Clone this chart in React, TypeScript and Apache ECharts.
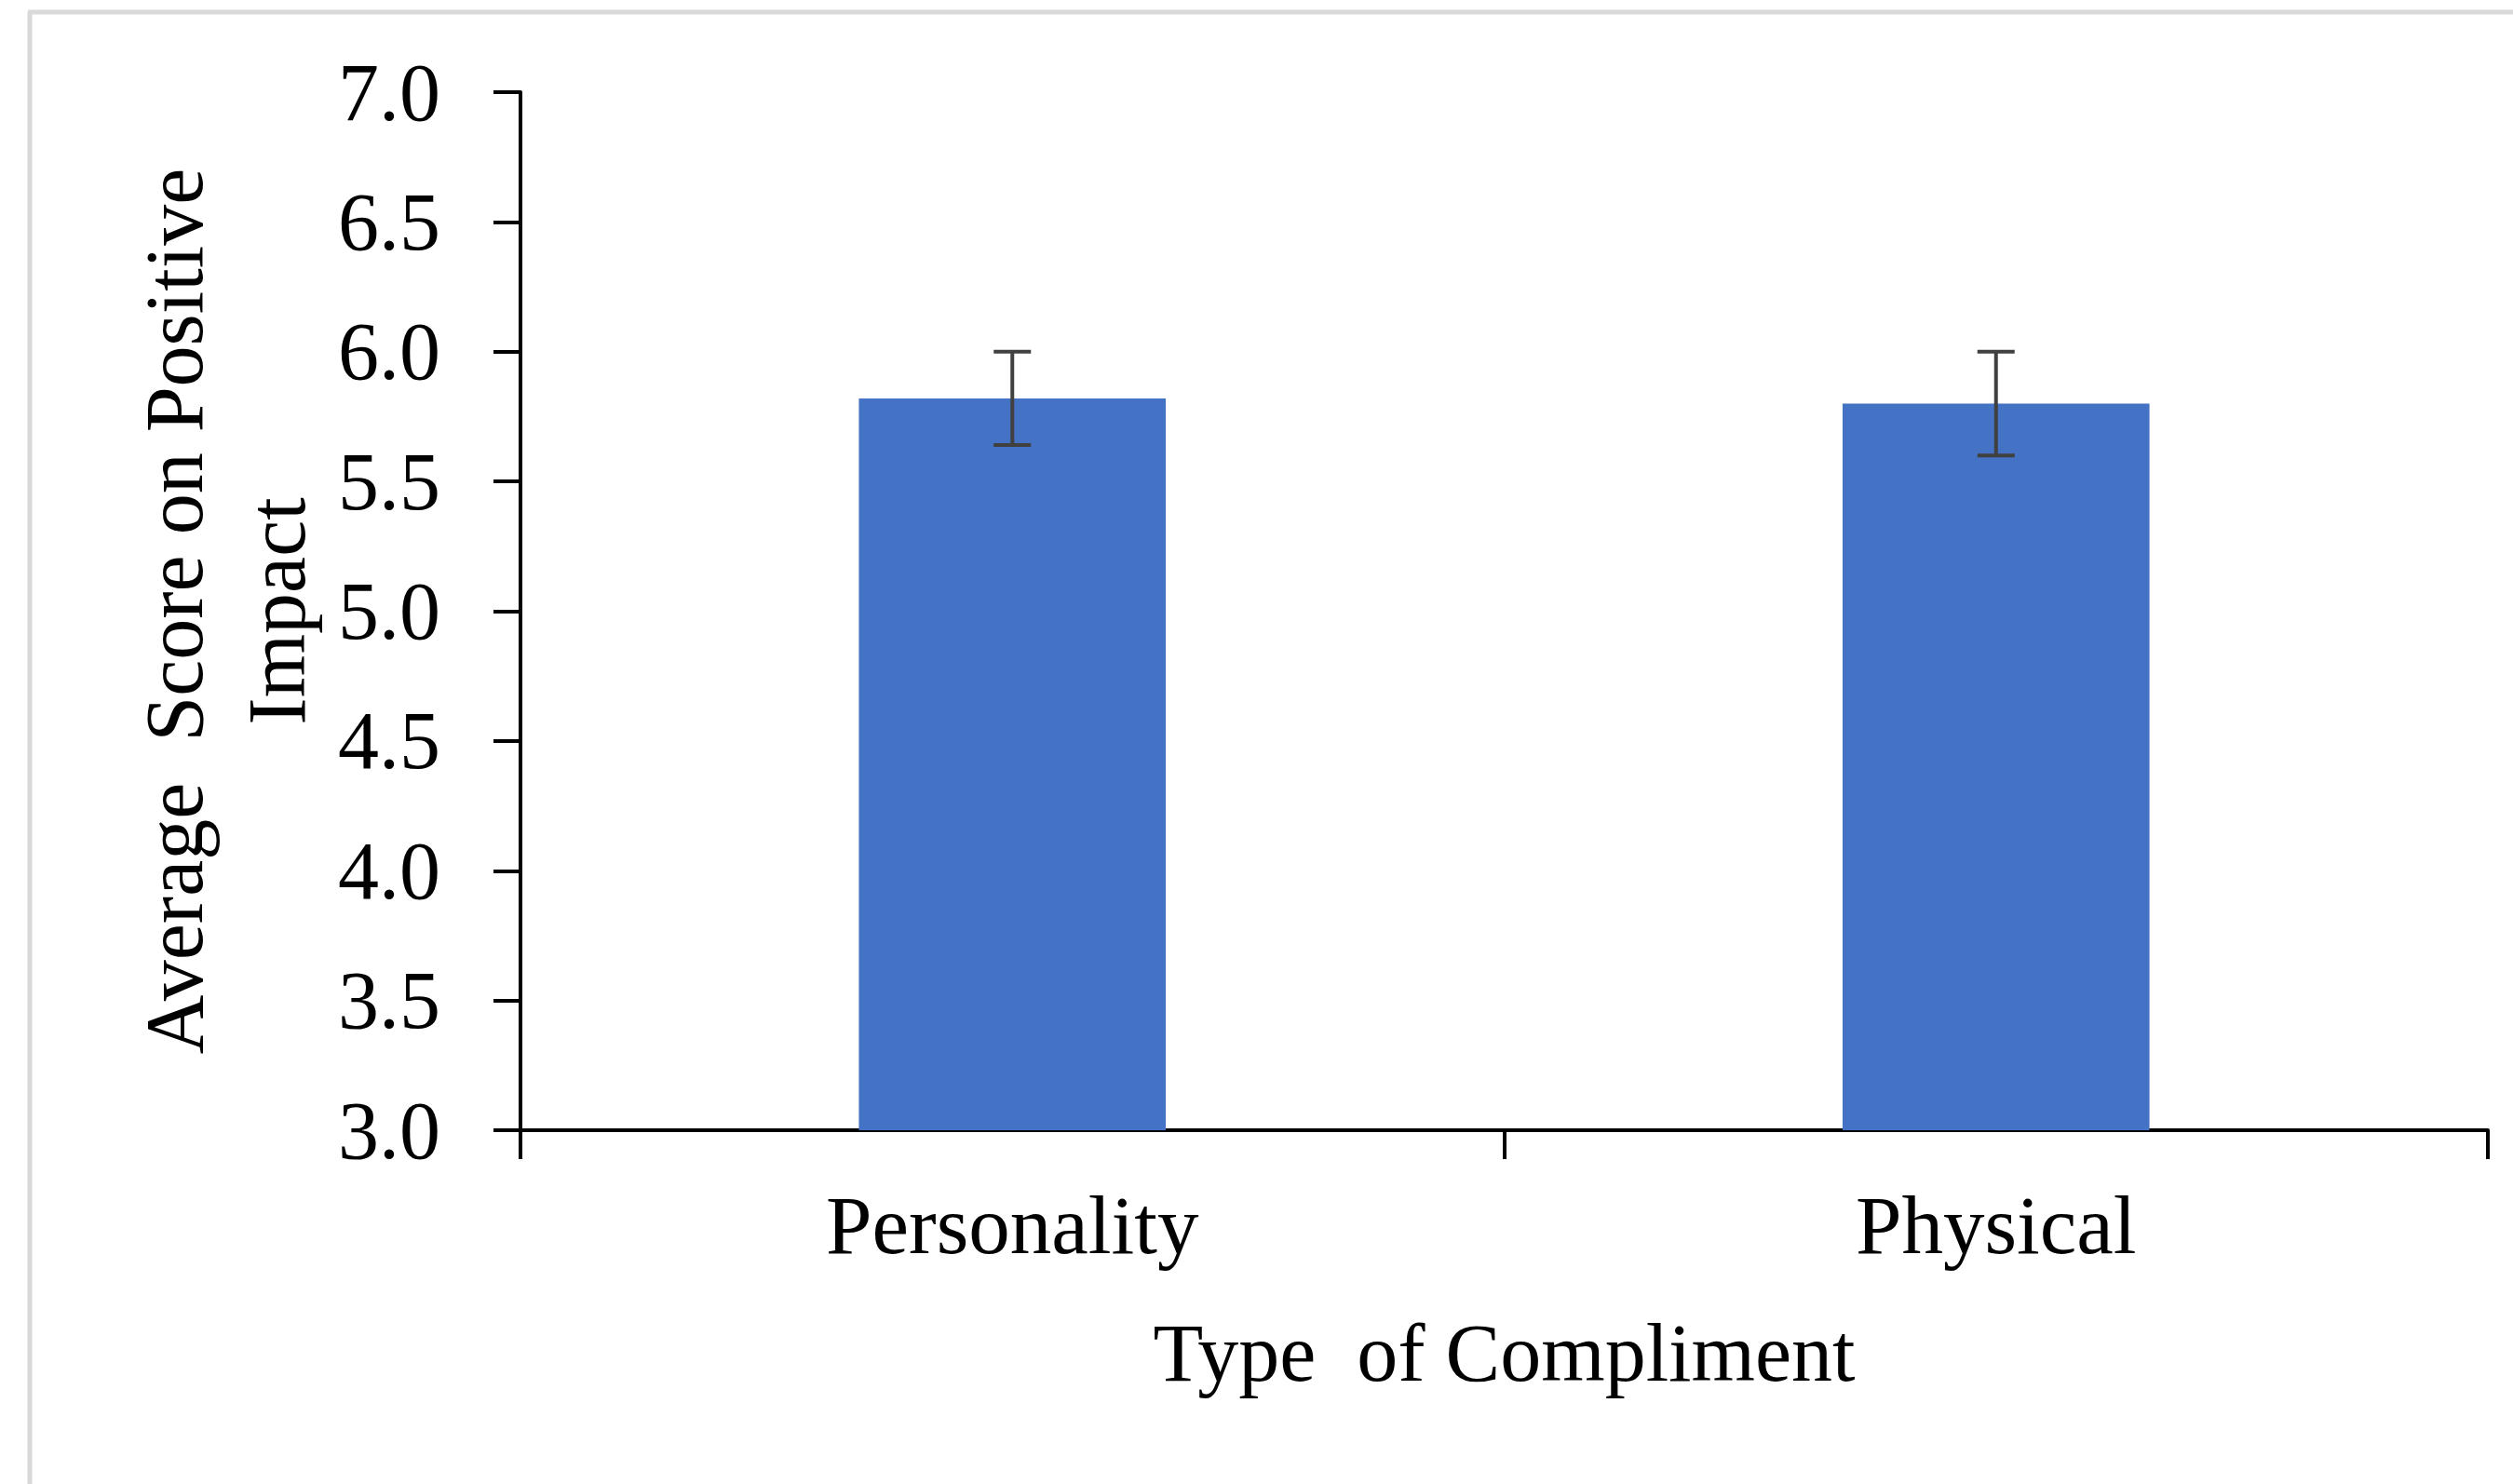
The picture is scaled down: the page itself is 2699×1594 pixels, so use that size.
import React, { useEffect, useRef } from "react";
import * as echarts from "echarts";

const categories = ["Personality", "Physical"];
const means = [5.82, 5.8];
const errors = [0.18, 0.2];
const yTicks = { min: 3, max: 7, interval: 0.5 };
const xTitle = "Type  of Compliment";
const yTitle = "Average  Score on Positive\nImpact";

const FONT = "'Liberation Serif', 'Times New Roman', serif";

export default function App() {
  const ref = useRef<HTMLDivElement>(null);
  useEffect(() => {
    if (!ref.current) return;
    const chart = echarts.init(ref.current, null, { renderer: "svg" });
    const errData = categories.map((_, i) => [i, means[i] - errors[i], means[i] + errors[i]]);
    chart.setOption({
      animation: false,
      backgroundColor: "#ffffff",
      textStyle: { fontFamily: FONT },
      grid: { left: 559, right: 27, top: 99, bottom: 380, containLabel: false },
      graphic: [
        { type: "line", shape: { x1: 30, y1: 13, x2: 2699, y2: 13 }, style: { stroke: "#d9d9d9", lineWidth: 5 } },
        { type: "line", shape: { x1: 32, y1: 13, x2: 32, y2: 1594 }, style: { stroke: "#d9d9d9", lineWidth: 5 } },
      ],
      xAxis: {
        type: "category",
        data: categories,
        boundaryGap: true,
        axisLine: { lineStyle: { color: "#000", width: 4 } },
        axisTick: { show: true, length: 31, lineStyle: { color: "#000", width: 4 } },
        axisLabel: { fontSize: 89, fontFamily: FONT, color: "#000", margin: 57 },
        name: xTitle,
        nameLocation: "middle",
        nameGap: 195,
        nameTextStyle: { fontSize: 88, fontFamily: FONT, color: "#000" },
      },
      yAxis: {
        type: "value",
        min: yTicks.min,
        max: yTicks.max,
        interval: yTicks.interval,
        splitLine: { show: false },
        axisLine: { show: true, lineStyle: { color: "#000", width: 4 } },
        axisTick: { show: true, length: 29, lineStyle: { color: "#000", width: 4 } },
        axisLabel: {
          fontSize: 88,
          fontFamily: FONT,
          color: "#000",
          margin: 86,
          formatter: (v: number) => v.toFixed(1),
        },
        name: yTitle,
        nameLocation: "middle",
        nameRotate: 90,
        nameGap: 203,
        nameTextStyle: { fontSize: 88, fontFamily: FONT, color: "#000", lineHeight: 110 },
      },
      series: [
        {
          type: "bar",
          data: means,
          barWidth: "31.2%",
          itemStyle: { color: "#4472C4" },
          z: 2,
        },
        {
          type: "custom",
          data: errData,
          z: 5,
          renderItem: (params: any, api: any) => {
            const x = api.value(0);
            const lo = api.coord([x, api.value(1)]);
            const hi = api.coord([x, api.value(2)]);
            const hw = 20;
            const style = { stroke: "#404040", lineWidth: 4 };
            return {
              type: "group",
              children: [
                { type: "line", shape: { x1: hi[0], y1: hi[1], x2: lo[0], y2: lo[1] }, style },
                { type: "line", shape: { x1: hi[0] - hw, y1: hi[1], x2: hi[0] + hw, y2: hi[1] }, style },
                { type: "line", shape: { x1: lo[0] - hw, y1: lo[1], x2: lo[0] + hw, y2: lo[1] }, style },
              ],
            };
          },
        },
      ],
    });
    return () => chart.dispose();
  }, []);
  return (
    <div
      ref={ref}
      style={{ position: "fixed", left: 0, top: 0, width: 2699, height: 1594, background: "#fff" }}
    />
  );
}
